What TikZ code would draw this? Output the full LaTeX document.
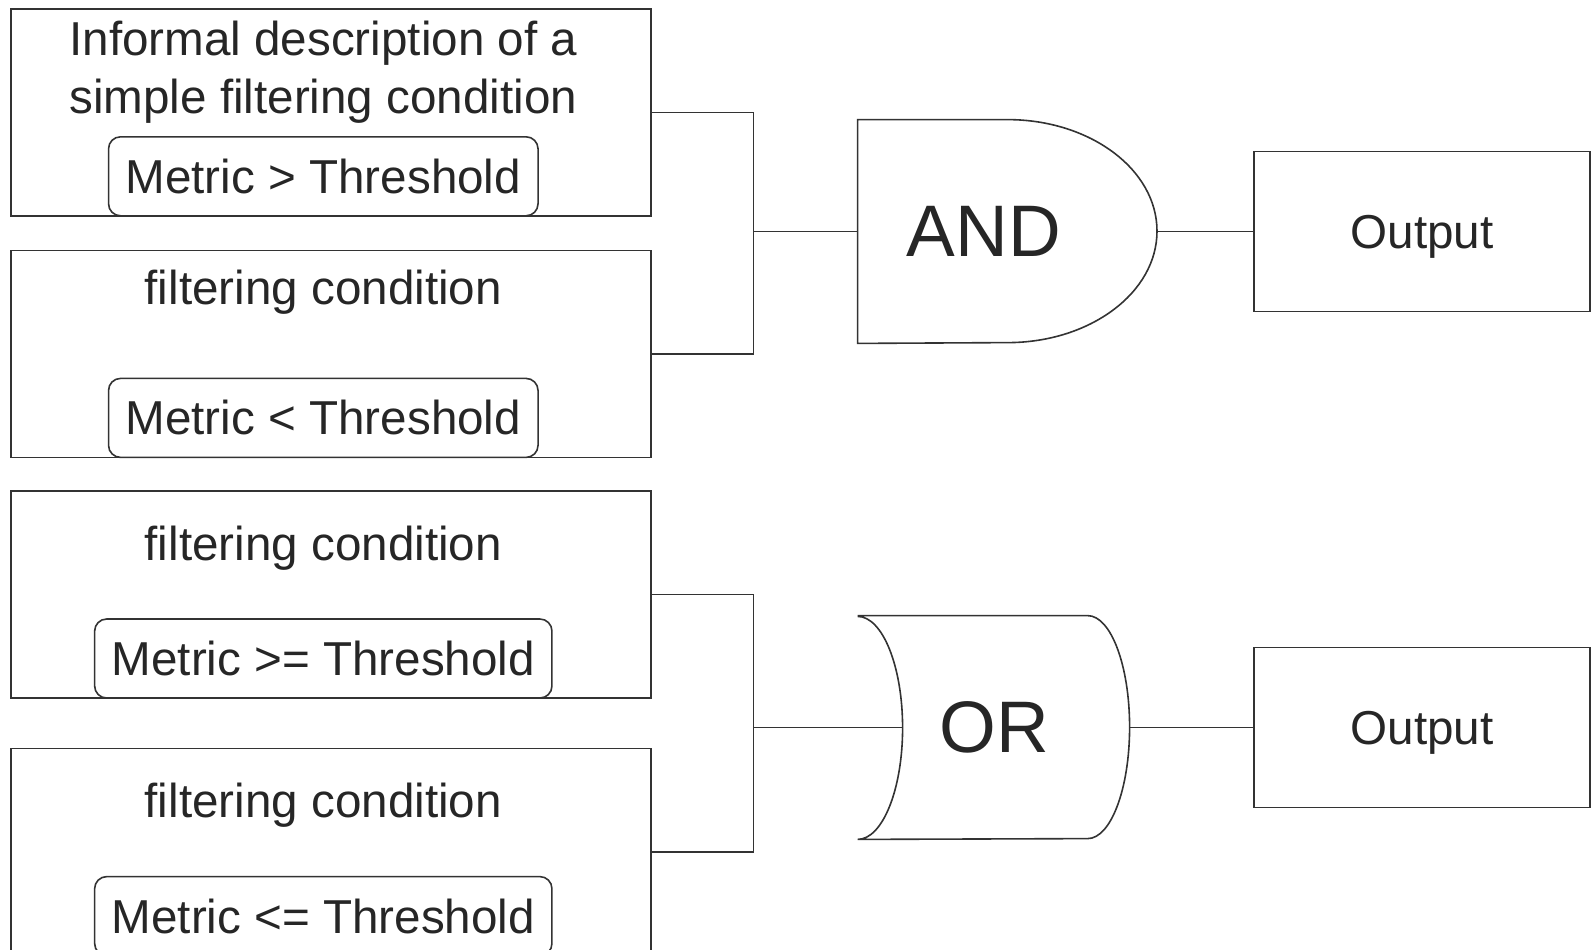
\documentclass[tikz,border=0pt]{standalone}
\usepackage{fontspec}
\setmainfont{Liberation Sans}
\usetikzlibrary{positioning}
\definecolor{linegray}{HTML}{333333}
\definecolor{textgray}{HTML}{262626}

\begin{document}
\begin{tikzpicture}[x=0.5pt,y=-0.5pt,
  every node/.style={text=textgray,font=\fontsize{23.8pt}{29pt}\selectfont},
  wire/.style={draw=linegray,line width=0.8pt},
  cond/.style={wire,minimum width=320pt,minimum height=103.5pt,inner sep=0pt},
  crit/.style={wire,rounded corners=6pt,minimum height=39.5pt,inner xsep=8.5pt,inner ysep=0pt},
  gate/.style={minimum width=#1,minimum height=111.5pt,inner sep=0pt},
  gatelabel/.style={font=\fontsize{36.5pt}{40pt}\selectfont},
  outbox/.style={wire,minimum width=168pt,minimum height=80pt,inner sep=0pt,text depth=0pt}]
\useasboundingbox (0,0) rectangle (1591,949);

% condition boxes
\node[cond,anchor=north west] (c1) at (10,8) {};
\node[cond] (c2) [below=16.5pt of c1] {};
\node[cond] (c3) [below=16pt of c2] {};
\node[cond] (c4) [below=24.5pt of c3] {};

\node[align=center] (t1) at ([xshift=-3.75pt,yshift=-32pt]c1.north) {Informal description of a\\simple filtering condition};
\node (t2) at ([xshift=-3.75pt,yshift=-21.5pt]c2.north) {filtering condition};
\node (t3) at ([xshift=-3.75pt,yshift=-29pt]c3.north) {filtering condition};
\node (t4) at ([xshift=-3.75pt,yshift=-28.5pt]c4.north) {filtering condition};

\node[crit,anchor=south] (m1) at ([xshift=-3.75pt]c1.south) {Metric > Threshold};
\node[crit,anchor=south] (m2) at ([xshift=-3.75pt]c2.south) {Metric < Threshold};
\node[crit,anchor=south] (m3) at ([xshift=-3.75pt]c3.south) {Metric >= Threshold};
\node[crit,anchor=south] (m4) at ([xshift=-3.75pt]c4.south) {Metric <= Threshold};

% gates
\node[gate=149.5pt] (gA) at (1007.5,231.5) {};
\node[gatelabel] (lA) at ([xshift=-11.75pt]gA.center) {AND};
\draw[wire] (gA.north west) -- (gA.north)
  arc[start angle=90,end angle=-90,x radius=74.75pt,y radius=55.75pt]
  -- (gA.south west) -- cycle;

\node[gate=136pt] (gO) at (994,727.5) {};
\node[gatelabel] (lO) at (gO.center) {OR};
\draw[wire] (gO.north west) -- ++(230,0)
  arc[start angle=90,end angle=-90,x radius=21pt,y radius=55.75pt]
  -- (gO.south west)
  arc[start angle=-90,end angle=90,x radius=22.5pt,y radius=55.75pt];
\coordinate (gOin) at ([xshift=22.5pt]gO.west);

% outputs
\node[outbox] (o1) [right=48pt of gA] {Output};
\node[outbox] (o2) [right=61.5pt of gO] {Output};

% wiring
\coordinate (jA) at ([xshift=-52pt]gA.west);
\coordinate (jO) at ([xshift=-52pt]gO.west);
\draw[wire] (c1.east) -| (jA) |- (c2.east);
\draw[wire] (jA) -- (gA.west);
\draw[wire] (gA.east) -- (o1.west);
\draw[wire] (c3.east) -| (jO) |- (c4.east);
\draw[wire] (jO) -- (gOin);
\draw[wire] (gO.east) -- (o2.west);
\end{tikzpicture}
\end{document}
